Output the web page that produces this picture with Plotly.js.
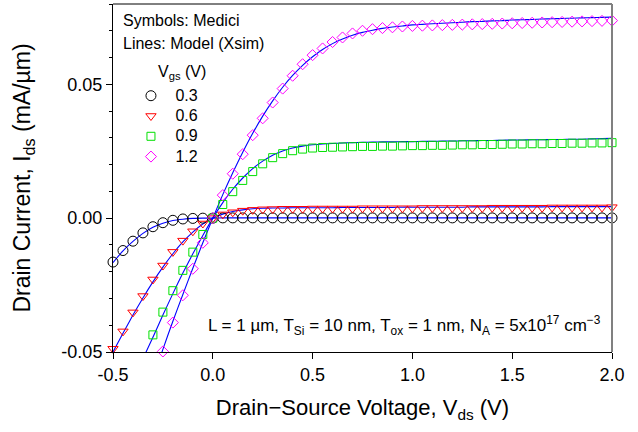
<!DOCTYPE html>
<html>
<head>
<meta charset="utf-8">
<script src="https://cdn.plot.ly/plotly-3.0.1.min.js"></script>
<style>
  html, body { margin: 0; padding: 0; background: #fff; }
  #chart { width: 638px; height: 432px; }
</style>
</head>
<body>
<div id="chart"></div>
<script>
// Drain-source voltage grid (V)
const vds = [-0.50, -0.45, -0.40, -0.35, -0.30, -0.25, -0.20, -0.15, -0.10, -0.05,
              0.00,  0.05,  0.10,  0.15,  0.20,  0.25,  0.30,  0.35,  0.40,  0.45,
              0.50,  0.55,  0.60,  0.65,  0.70,  0.75,  0.80,  0.85,  0.90,  0.95,
              1.00,  1.05,  1.10,  1.15,  1.20,  1.25,  1.30,  1.35,  1.40,  1.45,
              1.50,  1.55,  1.60,  1.65,  1.70,  1.75,  1.80,  1.85,  1.90,  1.95, 2.00];

// Gate voltages (V) and legend labels
const vgsLabels = ['0.3', '0.6', '0.9', '1.2'];

// Medici device simulation, Ids (mA/um) at Vgs = 0.3 V
const medici03 = [-0.0164, -0.0121, -0.0086, -0.0055, -0.0032, -0.0017, -0.0008, -0.0003, -0.0001, 0.0000,
                   0.0000,  0.0001,  0.0001,  0.0001,  0.0001,  0.0001,  0.0001,  0.0001,  0.0001,  0.0001,
                   0.0001,  0.0001,  0.0001,  0.0001,  0.0001,  0.0001,  0.0001,  0.0001,  0.0001,  0.0001,
                   0.0001,  0.0001,  0.0001,  0.0001,  0.0001,  0.0001,  0.0001,  0.0001,  0.0001,  0.0001,
                   0.0001,  0.0001,  0.0001,  0.0001,  0.0001,  0.0001,  0.0001,  0.0001,  0.0001,  0.0001, 0.0001];
// Vgs = 0.6 V
const medici06 = [-0.0488, -0.0423, -0.0352, -0.0291, -0.0229, -0.0177, -0.0126, -0.0084, -0.0049, -0.0020,
                   0.0000,  0.0014,  0.0022,  0.0028,  0.0031,  0.0033,  0.0034,  0.0035,  0.0035,  0.0035,
                   0.0036,  0.0036,  0.0036,  0.0036,  0.0036,  0.0037,  0.0037,  0.0037,  0.0037,  0.0037,
                   0.0037,  0.0038,  0.0038,  0.0038,  0.0038,  0.0038,  0.0038,  0.0038,  0.0039,  0.0039,
                   0.0039,  0.0039,  0.0039,  0.0039,  0.0040,  0.0040,  0.0040,  0.0040,  0.0040,  0.0040, 0.0041];
// Vgs = 0.9 V (starts at Vds = -0.30)
const vds09 = vds.slice(4);
const medici09 = [-0.0436, -0.0351, -0.0271, -0.0195, -0.0127, -0.0061,
                   0.0000,  0.0051,  0.0099,  0.0141,  0.0174,  0.0203,  0.0226,  0.0241,  0.0252,  0.0258,
                   0.0262,  0.0264,  0.0265,  0.0266,  0.0267,  0.0268,  0.0268,  0.0269,  0.0269,  0.0270,
                   0.0271,  0.0271,  0.0272,  0.0272,  0.0273,  0.0274,  0.0274,  0.0275,  0.0275,  0.0276,
                   0.0277,  0.0277,  0.0278,  0.0278,  0.0279,  0.0279,  0.0280,  0.0280,  0.0281,  0.0281, 0.0282];
// Vgs = 1.2 V (starts at Vds = -0.25)
const vds12 = vds.slice(5);
const medici12 = [-0.0498, -0.0390, -0.0288, -0.0189, -0.0092,
                   0.0000,  0.0086,  0.0166,  0.0239,  0.0310,  0.0373,  0.0432,  0.0484,  0.0532,  0.0575,
                   0.0609,  0.0634,  0.0658,  0.0675,  0.0690,  0.0700,  0.0706,  0.0710,  0.0713,  0.0716,
                   0.0718,  0.0719,  0.0720,  0.0721,  0.0722,  0.0723,  0.0724,  0.0725,  0.0726,  0.0727,
                   0.0728,  0.0729,  0.0730,  0.0731,  0.0732,  0.0733,  0.0734,  0.0735,  0.0736,  0.0737, 0.0738];

// Compact model (Xsim) curves, Ids (mA/um)
const model03 = [-0.0166, -0.0122, -0.0087, -0.0057, -0.0034, -0.0019, -0.0009, -0.0004, -0.0001, 0.0000,
                  0.0000,  0.0001,  0.0001,  0.0001,  0.0001,  0.0001,  0.0001,  0.0001,  0.0001,  0.0001,
                  0.0001,  0.0001,  0.0001,  0.0001,  0.0001,  0.0001,  0.0001,  0.0001,  0.0001,  0.0001,
                  0.0001,  0.0001,  0.0001,  0.0001,  0.0001,  0.0001,  0.0001,  0.0001,  0.0001,  0.0001,
                  0.0001,  0.0001,  0.0001,  0.0001,  0.0001,  0.0001,  0.0001,  0.0001,  0.0001,  0.0001, 0.0001];
const model06 = [-0.0500, -0.0430, -0.0362, -0.0298, -0.0238, -0.0183, -0.0133, -0.0089, -0.0052, -0.0022,
                  0.0000,  0.0015,  0.0025,  0.0031,  0.0035,  0.0037,  0.0038,  0.0038,  0.0039,  0.0039,
                  0.0039,  0.0039,  0.0039,  0.0040,  0.0040,  0.0040,  0.0040,  0.0040,  0.0040,  0.0041,
                  0.0041,  0.0041,  0.0041,  0.0041,  0.0041,  0.0041,  0.0042,  0.0042,  0.0042,  0.0042,
                  0.0042,  0.0042,  0.0042,  0.0042,  0.0043,  0.0043,  0.0043,  0.0043,  0.0043,  0.0043, 0.0043];
const vdsModel09 = vds.slice(3);
const model09 = [-0.0525, -0.0445, -0.0362, -0.0282, -0.0205, -0.0133, -0.0065,
                  0.0000,  0.0058,  0.0108,  0.0150,  0.0185,  0.0213,  0.0235,  0.0251,  0.0262,  0.0269,
                  0.0274,  0.0277,  0.0279,  0.0281,  0.0282,  0.0283,  0.0284,  0.0285,  0.0285,  0.0286,
                  0.0286,  0.0287,  0.0287,  0.0288,  0.0288,  0.0289,  0.0289,  0.0290,  0.0290,  0.0291,
                  0.0292,  0.0292,  0.0293,  0.0293,  0.0294,  0.0294,  0.0295,  0.0295,  0.0296,  0.0297, 0.0298];
const vdsModel12 = vds.slice(4);
const model12 = [-0.0600, -0.0490, -0.0385, -0.0285, -0.0187, -0.0092,
                  0.0000,  0.0088,  0.0170,  0.0246,  0.0317,  0.0381,  0.0438,  0.0489,  0.0533,  0.0571,
                  0.0603,  0.0630,  0.0652,  0.0669,  0.0683,  0.0694,  0.0702,  0.0709,  0.0714,  0.0718,
                  0.0722,  0.0724,  0.0726,  0.0728,  0.0730,  0.0732,  0.0734,  0.0735,  0.0737,  0.0738,
                  0.0740,  0.0741,  0.0742,  0.0744,  0.0745,  0.0746,  0.0747,  0.0748,  0.0749,  0.0750,
                  0.0751,  0.0752,  0.0752,  0.0753,  0.0754];

// Axis ticks
const xTickVals = [-0.5, 0.0, 0.5, 1.0, 1.5, 2.0];
const xTickText = ['-0.5', '0.0', '0.5', '1.0', '1.5', '2.0'];
const yTickVals = [-0.05, 0.00, 0.05];
const yTickText = ['-0.05', '0.00', '0.05'];

const FONT = 'Arial, "Liberation Sans", Helvetica, sans-serif';
const BLUE = '#0000ff';

function modelLine(x, y) {
  return { x: x, y: y, type: 'scatter', mode: 'lines', showlegend: false, hoverinfo: 'skip',
           line: { color: BLUE, width: 1.1, shape: 'spline', smoothing: 0.6 } };
}
// legend rows stay compact (13px metrics) while the label itself renders at 16px
function symbols(x, y, name, symbol, color, size) {
  return { x: x, y: y, type: 'scatter', mode: 'markers', cliponaxis: false,
           name: '<span style="font-size:16px">\u00a0' + name + '</span>',
           marker: { symbol: symbol, size: size, color: color, line: { color: color, width: 1 } } };
}

const traces = [
  modelLine(vds, model03),
  modelLine(vds, model06),
  modelLine(vdsModel09, model09),
  modelLine(vdsModel12, model12),
  symbols(vds, medici03, vgsLabels[0], 'circle-open', '#000000', 10),
  symbols(vds, medici06, vgsLabels[1], 'triangle-down-open', '#ff0000', 9),
  symbols(vds09, medici09, vgsLabels[2], 'square-open', '#00e000', 8),
  symbols(vds12, medici12, vgsLabels[3], 'diamond-open', '#ff00ff', 8.5)
];

const layout = {
  width: 638, height: 432,
  margin: { l: 113, r: 26, t: 4, b: 80 },
  paper_bgcolor: '#ffffff', plot_bgcolor: '#ffffff',
  font: { family: FONT, color: '#000000', size: 16 },
  showlegend: true,
  legend: {
    x: 0.036, y: 0.78, xanchor: 'left', yanchor: 'top',
    bgcolor: 'rgba(0,0,0,0)', borderwidth: 0,
    font: { family: FONT, size: 13.3, color: '#000000' },
    tracegroupgap: 0, itemsizing: 'trace'
  },
  xaxis: {
    range: [-0.5, 2.0], showgrid: false, zeroline: false,
    showline: true, linecolor: '#000000', linewidth: 1,
    ticks: 'outside', ticklen: 6, tickwidth: 1, tickcolor: '#000000',
    tickmode: 'array', tickvals: xTickVals, ticktext: xTickText,
    tickfont: { family: FONT, size: 18 },
    title: { text: 'Drain\u2212Source Voltage, V<sub>ds</sub> (V)', font: { family: FONT, size: 22 }, standoff: 16 }
  },
  yaxis: {
    range: [-0.05, 0.08], showgrid: false, zeroline: false,
    showline: true, linecolor: '#000000', linewidth: 1,
    ticks: 'outside', ticklen: 6, tickwidth: 1, tickcolor: '#000000',
    tickmode: 'array', tickvals: yTickVals, ticktext: yTickText,
    tickfont: { family: FONT, size: 18 },
    minor: { dtick: 0.01, ticks: 'outside', ticklen: 3, tickwidth: 1, tickcolor: '#000000', showgrid: false },
    title: { text: 'Drain Current, I<sub>ds</sub> (mA/\u00b5m)', font: { family: FONT, size: 23 }, standoff: 24 }
  },
  // top and right frame lines
  shapes: [
    { type: 'line', xref: 'paper', yref: 'paper', x0: 0, x1: 1, y0: 1, y1: 1,
      line: { color: '#000000', width: 1 } },
    { type: 'line', xref: 'paper', yref: 'paper', x0: 1, x1: 1, y0: 0, y1: 1,
      line: { color: '#808080', width: 2 } }
  ],
  annotations: [
    { xref: 'paper', yref: 'paper', x: 0.016, y: 0.982, xanchor: 'left', yanchor: 'top', showarrow: false,
      text: 'Symbols: Medici', font: { family: FONT, size: 16 } },
    { xref: 'paper', yref: 'paper', x: 0.016, y: 0.917, xanchor: 'left', yanchor: 'top', showarrow: false,
      text: 'Lines: Model (Xsim)', font: { family: FONT, size: 16 } },
    { xref: 'paper', yref: 'paper', x: 0.086, y: 0.836, xanchor: 'left', yanchor: 'top', showarrow: false,
      text: 'V<sub>gs</sub> (V)', font: { family: FONT, size: 16 } },
    { xref: 'paper', yref: 'paper', x: 0.982, y: 0.035, xanchor: 'right', yanchor: 'bottom', showarrow: false,
      text: 'L = 1 \u00b5m, T<sub>Si</sub> = 10 nm, T<sub>ox</sub> = 1 nm, N<sub>A</sub> = 5x10<sup>17</sup> cm<sup>\u22123</sup>',
      font: { family: FONT, size: 17 } }
  ]
};

Plotly.newPlot('chart', traces, layout, { displayModeBar: false, staticPlot: true });
</script>
</body>
</html>
